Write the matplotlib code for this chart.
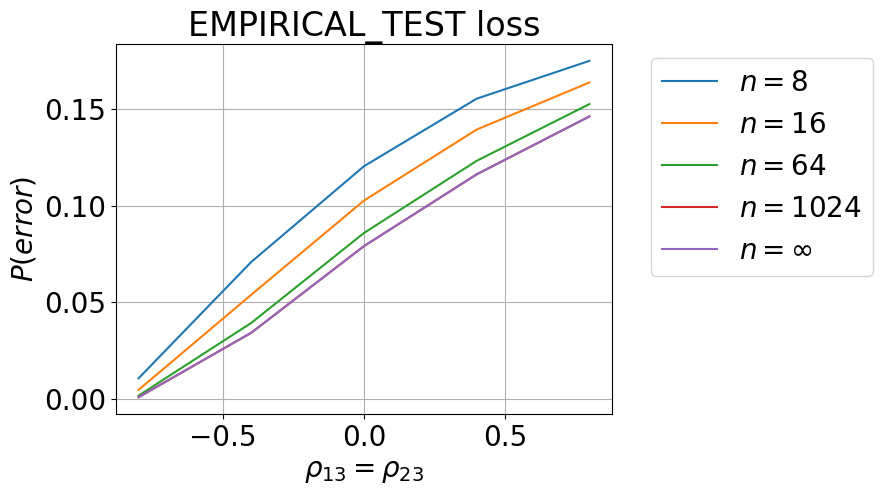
import matplotlib.pyplot as plt
import numpy as np

# data
rho = [-0.8, -0.4, 0.0, 0.4, 0.8]
p_8 = [0.0107, 0.0710, 0.1206, 0.1556, 0.1752]
p_16 = [0.0047, 0.0540, 0.1028, 0.1396, 0.1640]
p_64 = [0.0017, 0.0394, 0.0860, 0.1234, 0.1528]
p_1024 = [0.0009, 0.0343, 0.0792, 0.1164, 0.1464]
p_inf = [0.0009, 0.0343, 0.0792, 0.1164, 0.1464]
labels = ['$n=8$', '$n=16$', '$n=64$', '$n=1024$', '$n=\\infty$']

fig, ax = plt.subplots(figsize=(8.83, 4.95), dpi=100)
fig.subplots_adjust(left=0.1314, right=0.693, top=0.911, bottom=0.1636)

for p, lab in zip([p_8, p_16, p_64, p_1024, p_inf], labels):
    ax.plot(rho, p, label=lab)

ax.set_title('EMPIRICAL_TEST loss', fontsize=24)
ax.set_xlabel('$\\rho_{13} = \\rho_{23}$', fontsize=20)
ax.set_ylabel('$P(error)$', fontsize=20)
ax.tick_params(labelsize=20)
ax.set_xticks([-0.5, 0.0, 0.5])
ax.set_yticks([0.0, 0.05, 0.10, 0.15])
ax.grid()
ax.legend(bbox_to_anchor=(1.05, 1), loc='upper left', fontsize=20)

fig.savefig('out.png')
